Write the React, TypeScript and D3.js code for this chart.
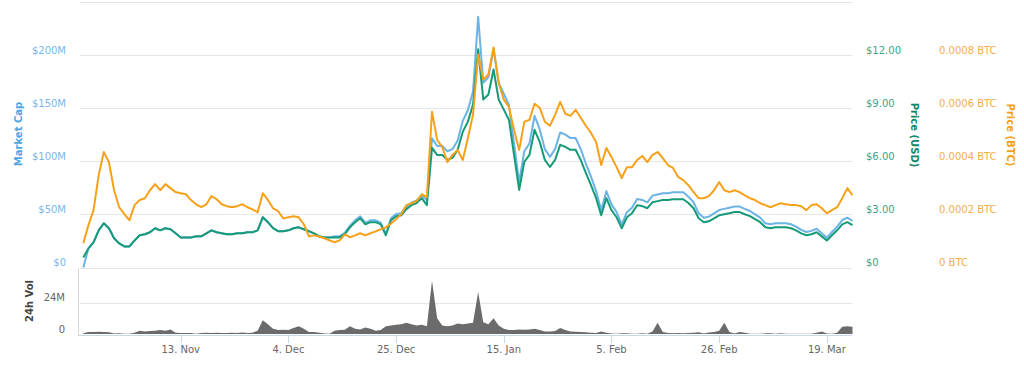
import React, { useEffect, useRef } from 'react';
import * as d3 from 'd3';

// daily points starting 25 Oct 2017
const startDate = Date.UTC(2017, 9, 25);
const DAY = 86400000;

// Market cap in $M
const marketCapM = [
  0, 18.0, 23.7, 35.0, 41.7, 37.0, 27.5, 22.7, 19.8, 19.8,
  25.5, 30.3, 31.3, 33.2, 37.0, 35.0, 37.0, 36.0, 32.2, 28.3,
  28.3, 28.3, 29.3, 29.3, 32.2, 35.0, 33.2, 32.2, 31.3, 31.3,
  32.2, 32.2, 33.2, 33.2, 35.0, 47.3, 42.7, 37.0, 34.2, 34.2,
  35.0, 37.0, 37.8, 36.0, 34.2, 32.2, 29.3, 28.3, 28.3, 29.5,
  29.5, 32.6, 39.4, 44.4, 48.2, 42.3, 44.4, 44.4, 42.3, 31.6,
  46.3, 50.3, 51.1, 57.2, 61.0, 63.1, 68.0, 63.4, 121.7, 114.5,
  114.5, 109.5, 111.4, 119.7, 138.1, 148.3, 165.6, 236.0, 174.0, 179.2,
  205.2, 174.0, 163.6, 153.1, 116.6, 80.3, 109.5, 116.6, 142.7, 130.2,
  111.5, 104.2, 111.5, 127.1, 125.1, 121.9, 121.9, 111.5, 97.9, 85.5,
  71.9, 54.1, 71.9, 59.4, 52.1, 40.7, 52.1, 56.3, 64.5, 63.6,
  61.4, 67.7, 68.8, 69.9, 69.9, 70.8, 70.8, 70.8, 66.7, 61.4,
  51.0, 46.9, 47.9, 51.0, 54.1, 55.2, 56.3, 57.4, 57.4, 55.2,
  53.2, 50.1, 46.9, 41.6, 40.7, 41.6, 41.6, 41.6, 40.7, 38.5,
  35.4, 33.4, 34.5, 36.5, 32.3, 28.1, 33.4, 38.5, 44.7, 46.9,
  43.8,
];

// Price in USD
const priceUsd = [
  0.57, 1.08, 1.42, 2.10, 2.50, 2.22, 1.65, 1.36, 1.19, 1.19,
  1.53, 1.82, 1.88, 1.99, 2.22, 2.10, 2.22, 2.16, 1.93, 1.70,
  1.70, 1.70, 1.76, 1.76, 1.93, 2.10, 1.99, 1.93, 1.88, 1.88,
  1.93, 1.93, 1.99, 1.99, 2.10, 2.84, 2.56, 2.22, 2.05, 2.05,
  2.10, 2.22, 2.27, 2.16, 2.05, 1.93, 1.76, 1.70, 1.70, 1.70,
  1.70, 1.88, 2.27, 2.56, 2.78, 2.44, 2.56, 2.56, 2.44, 1.82,
  2.67, 2.90, 2.95, 3.30, 3.52, 3.64, 3.92, 3.52, 6.76, 6.36,
  6.36, 6.08, 6.19, 6.65, 7.67, 8.24, 9.20, 12.33, 9.49, 9.77,
  11.19, 9.49, 8.92, 8.35, 6.36, 4.38, 5.97, 6.36, 7.78, 7.10,
  6.08, 5.68, 6.08, 6.93, 6.82, 6.65, 6.65, 6.08, 5.34, 4.66,
  3.92, 2.95, 3.92, 3.24, 2.84, 2.22, 2.84, 3.07, 3.52, 3.47,
  3.35, 3.69, 3.75, 3.81, 3.81, 3.86, 3.86, 3.86, 3.64, 3.35,
  2.78, 2.56, 2.61, 2.78, 2.95, 3.01, 3.07, 3.13, 3.13, 3.01,
  2.90, 2.73, 2.56, 2.27, 2.22, 2.27, 2.27, 2.27, 2.22, 2.10,
  1.93, 1.82, 1.88, 1.99, 1.76, 1.53, 1.82, 2.10, 2.44, 2.56,
  2.39,
];

// Price in BTC
const priceBtc = [
  0.000091, 0.000159, 0.000216, 0.000348, 0.000435, 0.000397, 0.000291, 0.000227, 0.000201, 0.000178,
  0.000235, 0.000254, 0.000261, 0.000291, 0.000314, 0.000291, 0.000314, 0.000299, 0.000284, 0.000280,
  0.000276, 0.000254, 0.000238, 0.000227, 0.000238, 0.000269, 0.000257, 0.000238, 0.000231, 0.000227,
  0.000231, 0.000238, 0.000227, 0.000219, 0.000208, 0.000280, 0.000254, 0.000223, 0.000212, 0.000185,
  0.000189, 0.000193, 0.000189, 0.000163, 0.000117, 0.000121, 0.000117, 0.000110, 0.000102, 0.000095,
  0.000102, 0.000125, 0.000114, 0.000121, 0.000129, 0.000121, 0.000129, 0.000136, 0.000144, 0.000151,
  0.000166, 0.000182, 0.000201, 0.000235, 0.000242, 0.000250, 0.000276, 0.000265, 0.000587, 0.000481,
  0.000454, 0.000397, 0.000424, 0.000443, 0.000405, 0.000488, 0.000575, 0.000802, 0.000708, 0.000727,
  0.000829, 0.000696, 0.000632, 0.000605, 0.000518, 0.000443, 0.000549, 0.000556, 0.000617, 0.000602,
  0.000549, 0.000534, 0.000575, 0.000624, 0.000579, 0.000571, 0.000594, 0.000564, 0.000534, 0.000507,
  0.000473, 0.000386, 0.000450, 0.000416, 0.000378, 0.000337, 0.000378, 0.000378, 0.000405, 0.000420,
  0.000397, 0.000424, 0.000435, 0.000412, 0.000386, 0.000375, 0.000341, 0.000329, 0.000310, 0.000284,
  0.000261, 0.000261, 0.000269, 0.000291, 0.000322, 0.000291, 0.000284, 0.000291, 0.000284, 0.000272,
  0.000261, 0.000254, 0.000242, 0.000235, 0.000227, 0.000235, 0.000242, 0.000238, 0.000235, 0.000235,
  0.000231, 0.000216, 0.000235, 0.000238, 0.000223, 0.000204, 0.000216, 0.000227, 0.000261, 0.000299,
  0.000272,
];

// 24h volume in $M
const volumeM = [
  0.5, 1.5, 1.5, 1.8, 1.5, 1.3, 0.3, 0.6, 0.2, 0.2,
  1.0, 2.5, 2.0, 2.3, 2.5, 3.0, 2.5, 3.5, 1.0, 0.8,
  0.8, 0.7, 0.2, 0.8, 1.0, 0.8, 0.9, 0.7, 0.8, 1.0,
  0.8, 1.2, 0.8, 1.0, 2.5, 10.5, 7.5, 4.0, 3.0, 3.2,
  3.0, 4.5, 6.0, 4.0, 1.5, 1.5, 1.0, 0.3, 0.2, 2.5,
  3.0, 3.2, 6.0, 4.0, 3.5, 5.0, 4.0, 2.5, 3.0, 6.0,
  6.5, 7.0, 7.5, 8.5, 7.5, 6.5, 7.0, 6.0, 40.5, 12.0,
  6.5, 6.0, 6.5, 8.0, 7.5, 8.0, 8.5, 32.0, 9.0, 7.5,
  12.0, 6.5, 4.0, 3.0, 3.0, 3.5, 3.2, 3.5, 4.0, 3.0,
  2.0, 2.0, 2.2, 4.5, 3.0, 2.0, 1.8, 1.5, 1.3, 1.0,
  0.8, 2.0, 1.0, 0.3, 0.1, 0.6, 0.6, 0.1, 0.1, 0.5,
  0.2, 2.0, 8.5, 1.5, 0.8, 0.6, 0.8, 0.6, 0.8, 1.0,
  1.3, 0.3, 1.2, 1.5, 2.5, 8.5, 1.5, 0.3, 1.5, 1.0,
  0.2, 0.1, 0.1, 0.6, 0.6, 0.1, 0.6, 0.2, 0.1, 0.1,
  0.1, 0.1, 0.1, 1.0, 2.0, 0.3, 0.1, 1.0, 5.5, 6.0,
  5.5,
];

const xTickDates = ['2017-11-13', '2017-12-04', '2017-12-25', '2018-01-15', '2018-02-05', '2018-02-26', '2018-03-19'];
const mcapTicks = [0, 50, 100, 150, 200];
const usdTicks = [0, 3, 6, 9, 12];
const btcTicks = [0, 0.0002, 0.0004, 0.0006, 0.0008];
const volTicks = [0, 24];

const W = 1024;
const H = 368;
const FONT = "'DejaVu Sans', Verdana, sans-serif";

const C = {
  mcap: '#6cb3e6',
  mcapTick: '#7cb5ec',
  mcapTitle: '#4da5df',
  usd: '#169a78',
  usdTick: '#3ea48a',
  usdTitle: '#11896a',
  btc: '#f7a11a',
  btcTick: '#f7ad4d',
  btcTitle: '#f49f18',
  grid: '#e6e6e6',
  axis: '#ccd6eb',
  label: '#666666',
  vol: '#6b6b6b',
};

export default function App() {
  const svgRef = useRef<SVGSVGElement>(null);

  useEffect(() => {
    if (!svgRef.current) return;
    const svg = d3.select(svgRef.current);
    svg.selectAll('*').remove();

    const left = 80;
    const right = 852;
    const mainTop = 2;
    const mainBottom = 267.5;
    const volTop = 271;
    const volBottom = 334;

    const dates = priceUsd.map((_, i) => new Date(startDate + i * DAY));

    const x = d3.scaleUtc()
      .domain([dates[0], dates[dates.length - 1]])
      .range([83.3, 852.5]);

    const yMcap = d3.scaleLinear().domain([0, 250]).range([mainBottom, mainTop]);
    const yUsd = d3.scaleLinear().domain([0, 15]).range([mainBottom, mainTop]);
    const yBtc = d3.scaleLinear().domain([0, 0.001]).range([mainBottom, mainTop]);
    const yVol = d3.scaleLinear().domain([0, 48]).range([volBottom, volTop]);

    svg.attr('width', W).attr('height', H);
    svg.append('rect').attr('width', W).attr('height', H).attr('fill', '#ffffff');

    // grid lines for main chart (including the top one at 250M)
    svg.append('g')
      .selectAll('line')
      .data([...mcapTicks, 250])
      .enter()
      .append('line')
      .attr('x1', left).attr('x2', right)
      .attr('y1', d => Math.round(yMcap(d)) + 0.5)
      .attr('y2', d => Math.round(yMcap(d)) + 0.5)
      .attr('stroke', C.grid)
      .attr('stroke-width', 1);

    // volume grid
    svg.append('line')
      .attr('x1', left).attr('x2', right)
      .attr('y1', Math.round(yVol(24)) + 0.5).attr('y2', Math.round(yVol(24)) + 0.5)
      .attr('stroke', C.grid);

    // volume area
    const area = d3.area<number>()
      .x((_, i) => x(dates[i]))
      .y0(yVol(0))
      .y1(d => yVol(d));
    svg.append('path')
      .datum(volumeM)
      .attr('d', area)
      .attr('fill', C.vol);

    // volume left axis line + x axis line
    svg.append('line')
      .attr('x1', 78.5).attr('x2', 78.5)
      .attr('y1', 268).attr('y2', 335.5)
      .attr('stroke', '#d8d8d8');
    svg.append('line')
      .attr('x1', 78).attr('x2', right)
      .attr('y1', 335.5).attr('y2', 335.5)
      .attr('stroke', C.axis);

    // x ticks
    const xTicks = xTickDates.map(s => new Date(s + 'T00:00:00Z'));
    const fmt = d3.utcFormat('%-d. %b');
    const xg = svg.append('g');
    xg.selectAll('line')
      .data(xTicks)
      .enter()
      .append('line')
      .attr('x1', d => Math.round(x(d)) + 0.5)
      .attr('x2', d => Math.round(x(d)) + 0.5)
      .attr('y1', 335.5).attr('y2', 343)
      .attr('stroke', C.axis);
    xg.selectAll('text')
      .data(xTicks)
      .enter()
      .append('text')
      .attr('x', d => x(d))
      .attr('y', 353)
      .attr('text-anchor', 'middle')
      .attr('font-family', FONT)
      .attr('font-size', 10)
      .attr('fill', C.label)
      .text(d => fmt(d));

    // lines: market cap, price usd, price btc
    const lineOf = (arr: number[], y: d3.ScaleLinear<number, number>) =>
      d3.line<number>().x((_, i) => x(dates[i])).y(d => y(d))(arr);

    const drawn: [number[], d3.ScaleLinear<number, number>, string][] = [
      [marketCapM, yMcap, C.mcap],
      [priceUsd, yUsd, C.usd],
      [priceBtc, yBtc, C.btc],
    ];
    drawn.forEach(([arr, y, color]) => {
      svg.append('path')
        .attr('d', lineOf(arr, y) || '')
        .attr('fill', 'none')
        .attr('stroke', color)
        .attr('stroke-width', 2)
        .attr('stroke-linejoin', 'round');
    });

    // left axis labels
    svg.append('g')
      .selectAll('text')
      .data(mcapTicks)
      .enter()
      .append('text')
      .attr('x', 66)
      .attr('y', d => yMcap(d) - 1.5)
      .attr('text-anchor', 'end')
      .attr('font-family', FONT)
      .attr('font-size', 10)
      .attr('fill', C.mcapTick)
      .text(d => `$${d}${d === 0 ? '' : 'M'}`);

    svg.append('g')
      .selectAll('text')
      .data(volTicks)
      .enter()
      .append('text')
      .attr('x', 65)
      .attr('y', d => yVol(d) - 1.5)
      .attr('text-anchor', 'end')
      .attr('font-family', FONT)
      .attr('font-size', 10)
      .attr('fill', C.label)
      .text(d => (d === 0 ? '0' : `${d}M`));

    // right axis labels
    svg.append('g')
      .selectAll('text')
      .data(usdTicks)
      .enter()
      .append('text')
      .attr('x', 866)
      .attr('y', d => yUsd(d) - 1.5)
      .attr('font-family', FONT)
      .attr('font-size', 10)
      .attr('fill', C.usdTick)
      .text(d => (d === 0 ? '$0' : `$${d.toFixed(2)}`));

    svg.append('g')
      .selectAll('text')
      .data(btcTicks)
      .enter()
      .append('text')
      .attr('x', 939)
      .attr('y', d => yBtc(d) - 1.5)
      .attr('font-family', FONT)
      .attr('font-size', 10)
      .attr('fill', C.btcTick)
      .text(d => (d === 0 ? '0 BTC' : `${d.toFixed(4)} BTC`));

    // axis titles
    const title = (label: string, cx: number, cy: number, rot: number, color: string) => {
      svg.append('text')
        .attr('transform', `translate(${cx},${cy}) rotate(${rot})`)
        .attr('text-anchor', 'middle')
        .attr('dominant-baseline', 'central')
        .attr('font-family', FONT)
        .attr('font-size', 10)
        .attr('font-weight', 'bold')
        .attr('fill', color)
        .text(label);
    };
    title('Market Cap', 18, 134, -90, C.mcapTitle);
    title('24h Vol', 29, 301, -90, '#444444');
    title('Price (USD)', 914, 135, 90, C.usdTitle);
    title('Price (BTC)', 1010, 135, 90, C.btcTitle);
  }, []);

  return (
    <svg
      ref={svgRef}
      style={{ position: 'absolute', left: 0, top: 0, display: 'block' }}
      width={W}
      height={H}
    />
  );
}
